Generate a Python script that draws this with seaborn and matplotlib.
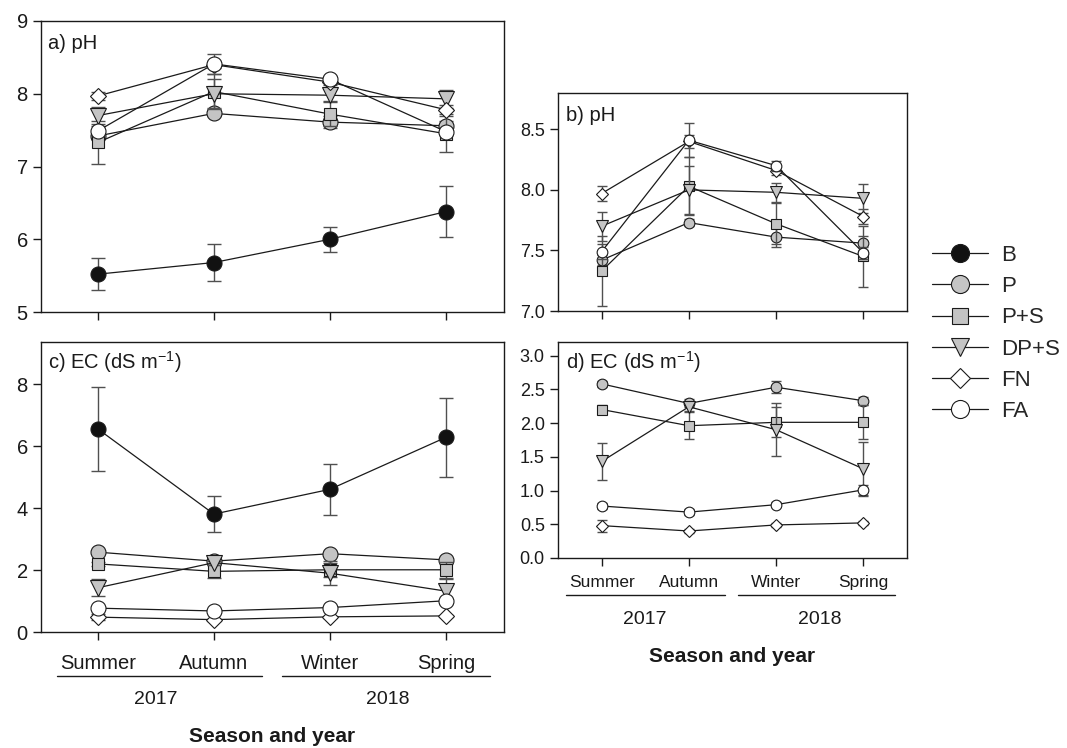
import numpy as np
import pandas as pd
import matplotlib
matplotlib.use("Agg")
import matplotlib.pyplot as plt
import matplotlib.transforms as mtransforms
from matplotlib.lines import Line2D
import seaborn as sns

# ---------------------------------------------------------------- data
seasons = ["Summer", "Autumn", "Winter", "Spring"]
years = ["2017", "2018"]
treatments = ["B", "P", "P+S", "DP+S", "FN", "FA"]

# soil pH (mean and standard error per season)
ph_B = [5.52, 5.68, 6.00, 6.38]
ph_P = [7.42, 7.73, 7.61, 7.56]
ph_PS = [7.33, 8.03, 7.72, 7.45]
ph_DPS = [7.70, 8.00, 7.98, 7.93]
ph_FN = [7.97, 8.40, 8.16, 7.78]
ph_FA = [7.49, 8.41, 8.20, 7.48]

ph_B_err = [0.22, 0.26, 0.17, 0.35]
ph_P_err = [0.04, 0.03, 0.08, 0.06]
ph_PS_err = [0.29, 0.24, 0.17, 0.25]
ph_DPS_err = [0.12, 0.20, 0.08, 0.12]
ph_FN_err = [0.06, 0.05, 0.04, 0.06]
ph_FA_err = [0.06, 0.14, 0.04, 0.05]

# electrical conductivity, dS m-1
ec_B = [6.56, 3.81, 4.61, 6.29]
ec_P = [2.58, 2.29, 2.53, 2.33]
ec_PS = [2.20, 1.96, 2.01, 2.01]
ec_DPS = [1.43, 2.24, 1.90, 1.32]
ec_FN = [0.48, 0.40, 0.49, 0.52]
ec_FA = [0.77, 0.68, 0.79, 1.01]

ec_B_err = [1.36, 0.59, 0.82, 1.28]
ec_P_err = [0.04, 0.06, 0.09, 0.06]
ec_PS_err = [0.06, 0.20, 0.22, 0.25]
ec_DPS_err = [0.28, 0.06, 0.39, 0.40]
ec_FN_err = [0.09, 0.03, 0.03, 0.03]
ec_FA_err = [0.04, 0.04, 0.04, 0.07]

ph_means = [ph_B, ph_P, ph_PS, ph_DPS, ph_FN, ph_FA]
ph_errs = [ph_B_err, ph_P_err, ph_PS_err, ph_DPS_err, ph_FN_err, ph_FA_err]
ec_means = [ec_B, ec_P, ec_PS, ec_DPS, ec_FN, ec_FA]
ec_errs = [ec_B_err, ec_P_err, ec_PS_err, ec_DPS_err, ec_FN_err, ec_FA_err]


def long_table(means, errs):
    rows = []
    for t, m, e in zip(treatments, means, errs):
        for i, s in enumerate(seasons):
            rows.append({"treatment": t, "season": s, "x": i,
                         "value": m[i], "se": e[i]})
    return pd.DataFrame(rows)


ph_df = long_table(ph_means, ph_errs)
ec_df = long_table(ec_means, ec_errs)

# ---------------------------------------------------------------- style
sns.set_style("ticks")
plt.rcParams["font.family"] = ["Liberation Sans", "DejaVu Sans"]
plt.rcParams["mathtext.fontset"] = "custom"
plt.rcParams["mathtext.rm"] = "Liberation Sans"
plt.rcParams["mathtext.it"] = "Liberation Sans:italic"
plt.rcParams["axes.linewidth"] = 1.0

INK = "#1a1a1a"
GREY = "#c4c4c4"
ERR = "#505050"

# marker shape, face colour and relative size per treatment
marker_of = {"B": "o", "P": "o", "P+S": "s", "DP+S": "v", "FN": "D", "FA": "o"}
face_of = {"B": "#111111", "P": GREY, "P+S": GREY, "DP+S": GREY,
           "FN": "white", "FA": "white"}
scale_of = {"o": 1.0, "s": 0.85, "v": 1.05, "D": 0.80}

W, H = 1067, 748
fig = plt.figure(figsize=(W / 100, H / 100), dpi=100)


def add_ax(l, t, r, b):
    return fig.add_axes([l / W, 1 - b / H, (r - l) / W, (b - t) / H])


def draw_panel(ax, df, ms, capsize):
    for k, t in enumerate(treatments):
        sub = df[df["treatment"] == t]
        ax.errorbar(sub["x"], sub["value"], yerr=sub["se"], fmt="none",
                    ecolor=ERR, elinewidth=1.0, capsize=capsize,
                    capthick=1.0, zorder=2 + 2 * k)
        m = marker_of[t]
        sns.lineplot(data=sub, x="x", y="value", ax=ax, errorbar=None,
                     color=INK, lw=0.9, marker=m, ms=ms * scale_of[m],
                     markerfacecolor=face_of[t], markeredgecolor=INK,
                     markeredgewidth=0.8, zorder=3 + 2 * k)
    ax.set_xlabel("")
    ax.set_ylabel("")
    ax.set_xticks(range(len(seasons)))
    for side in ["top", "right", "left", "bottom"]:
        ax.spines[side].set_visible(True)
        ax.spines[side].set_color(INK)
    ax.tick_params(direction="out", length=6, width=1.0, colors=INK)


def season_axis(ax, height_px, under_px, year_px, xlab_px, spans,
                year_size, xlab_size):
    """Year underlines, year labels and the bold axis title below a panel."""
    tr = mtransforms.blended_transform_factory(ax.transData, ax.transAxes)
    yl = -under_px / height_px
    for (x0, x1), yr in zip(spans, years):
        ax.plot([x0, x1], [yl, yl], color=INK, lw=1.0, transform=tr,
                clip_on=False)
    for c, yr in zip([0.5, 2.5], years):
        ax.text(c, -year_px / height_px, yr, transform=tr, ha="center",
                va="center", fontsize=year_size, color=INK)
    ax.text(0.5, -xlab_px / height_px, "Season and year",
            transform=ax.transAxes, ha="center", va="baseline",
            fontsize=xlab_size, fontweight="bold", color=INK)


# ---------------------------------------------------------------- a) pH
ax_a = add_ax(41, 21, 504, 312)
draw_panel(ax_a, ph_df, 10.8, 5)
ax_a.set_xlim(-0.49, 3.5)
ax_a.set_ylim(5, 9)
ax_a.set_yticks([5, 6, 7, 8, 9])
ax_a.set_xticklabels([])
ax_a.tick_params(axis="y", labelsize=14.5)
ax_a.text(0.015, 0.904, "a) pH", transform=ax_a.transAxes, fontsize=14.5,
          va="baseline", color=INK)

# ---------------------------------------------------------------- b) pH
ax_b = add_ax(558, 93, 907, 311)
draw_panel(ax_b, ph_df, 7.7, 3.6)
ax_b.set_xlim(-0.5, 3.5)
ax_b.set_ylim(7.0, 8.8)
ax_b.set_yticks([7.0, 7.5, 8.0, 8.5])
ax_b.set_yticklabels(["7.0", "7.5", "8.0", "8.5"])
ax_b.set_xticklabels([])
ax_b.tick_params(axis="y", labelsize=13)
ax_b.text(0.023, 0.873, "b) pH", transform=ax_b.transAxes, fontsize=14.5,
          va="baseline", color=INK)

# ---------------------------------------------------------------- c) EC
ax_c = add_ax(41, 342, 504, 632)
draw_panel(ax_c, ec_df, 10.8, 5)
ax_c.set_xlim(-0.49, 3.5)
ax_c.set_ylim(0, 9.37)
ax_c.set_yticks([0, 2, 4, 6, 8])
ax_c.set_xticklabels(seasons)
ax_c.tick_params(axis="y", labelsize=14.5)
ax_c.tick_params(axis="x", labelsize=14.5, pad=10)
ax_c.text(0.015, 0.906, r"c) EC (dS m$\mathregular{^{-1}}$)",
          transform=ax_c.transAxes, fontsize=14.5, va="baseline", color=INK)
season_axis(ax_c, 290, 44, 67, 110,
            [(-0.353, 1.414), (1.586, 3.38)], 14, 15)

# ---------------------------------------------------------------- d) EC
ax_d = add_ax(558, 342, 907, 558)
draw_panel(ax_d, ec_df, 7.7, 3.6)
ax_d.set_xlim(-0.5, 3.5)
ax_d.set_ylim(0, 3.2)
ax_d.set_yticks(np.arange(0, 3.01, 0.5))
ax_d.set_yticklabels([f"{v:.1f}" for v in np.arange(0, 3.01, 0.5)])
ax_d.set_xticklabels(seasons)
ax_d.tick_params(axis="y", labelsize=13)
ax_d.tick_params(axis="x", labelsize=12.5, pad=6.5)
ax_d.text(0.023, 0.878, r"d) EC (dS m$\mathregular{^{-1}}$)",
          transform=ax_d.transAxes, fontsize=14.5, va="baseline", color=INK)
season_axis(ax_d, 216, 37, 61, 104,
            [(-0.41, 1.41), (1.56, 3.36)], 14, 15)

# ---------------------------------------------------------------- legend
legend_ms = {"o": 13, "s": 11, "v": 13, "D": 10.2}
handles = [Line2D([], [], color=INK, lw=0.9, marker=marker_of[t],
                  ms=legend_ms[marker_of[t]],
                  markerfacecolor=face_of[t], markeredgecolor=INK,
                  markeredgewidth=0.8)
           for t in treatments]
fig.legend(handles, treatments, loc="upper left",
           bbox_to_anchor=(932 / W, 1 - 245 / H), frameon=False,
           fontsize=16, handlelength=2.5, handletextpad=0.6,
           labelspacing=0.46, borderpad=0, borderaxespad=0)

fig.savefig("out.png", dpi=100)
